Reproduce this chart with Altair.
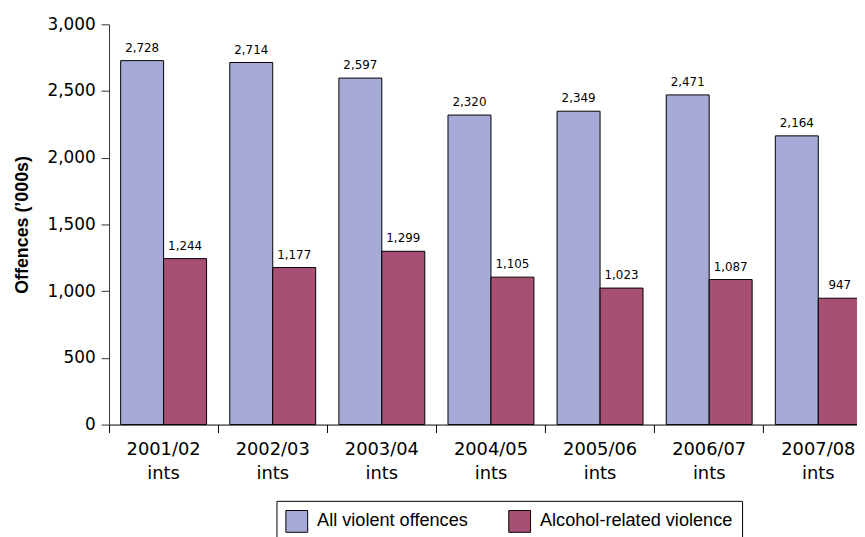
import altair as alt
import pandas as pd

categories = ["2001/02 ints", "2002/03 ints", "2003/04 ints", "2004/05 ints",
              "2005/06 ints", "2006/07 ints", "2007/08 ints"]
all_violent = [2728, 2714, 2597, 2320, 2349, 2471, 2164]
alcohol = [1244, 1177, 1299, 1105, 1023, 1087, 947]
series_names = ["All violent offences", "Alcohol-related violence"]
colors = ["#A6AAD6", "#A85074"]
y_ticks = [0, 500, 1000, 1500, 2000, 2500, 3000]

rows = []
for c, a, b in zip(categories, all_violent, alcohol):
    rows.append({"cat": c, "series": series_names[0], "value": a})
    rows.append({"cat": c, "series": series_names[1], "value": b})
df = pd.DataFrame(rows)

x = alt.X("cat:N", sort=categories, title=None,
          scale=alt.Scale(range=[0, 771], paddingInner=0, paddingOuter=0),
          axis=alt.Axis(labelExpr="split(datum.label, ' ')", labelAngle=0,
                        labelFontSize=18, labelFont="DejaVu Sans",
                        labelColor="black", labelLineHeight=24,
                        labelPadding=8, tickSize=8, tickColor="black",
                        domainColor="black", bandPosition=0, labelBound=False,
                        labelOverlap=False))
xo = alt.XOffset("series:N", sort=series_names,
                 scale=alt.Scale(paddingOuter=0.27, paddingInner=0))
y = alt.Y("value:Q", title="Offences (\u2019000s)",
          scale=alt.Scale(domain=[0, 3000], nice=False),
          axis=alt.Axis(values=y_ticks, format=",.0f", grid=False,
                        tickSize=8, tickColor="#333", domainColor="#333",
                        labelFontSize=17, labelFont="DejaVu Sans",
                        labelColor="black", labelPadding=6,
                        titleFont="Liberation Sans", titleFontSize=18,
                        titleFontWeight="bold", titleColor="black",
                        titlePadding=16))

bars = alt.Chart().mark_bar(stroke="black", strokeWidth=1).encode(
    x=x, xOffset=xo, y=y,
    color=alt.Color("series:N", sort=series_names,
                    scale=alt.Scale(domain=series_names, range=colors),
                    legend=alt.Legend(orient="none", legendX=169, legendY=481,
                                      direction="horizontal", columns=2,
                                      title=None, symbolType="square",
                                      symbolSize=484, symbolStrokeColor="black",
                                      symbolStrokeWidth=1, symbolOpacity=1,
                                      labelFontSize=18.3,
                                      labelFont="Liberation Sans",
                                      labelColor="black", strokeColor="black",
                                      fillColor="white", padding=9,
                                      columnPadding=38, labelOffset=9,
                                      labelLimit=400)),
)
labels = alt.Chart().mark_text(baseline="alphabetic", dy=-9, fontSize=12,
                               font="DejaVu Sans", color="black").encode(
    x=x, xOffset=xo, y=y,
    text=alt.Text("value:Q", format=","),
)

chart = alt.layer(bars, labels, data=df).properties(
    width=755, height=404,
    autosize=alt.AutoSizeParams(type="none"),
    padding={"left": 102, "top": 14, "right": 0, "bottom": 111},
).configure_view(stroke=None)

chart.save("out.html", embed_options={"renderer": "svg", "actions": False})
